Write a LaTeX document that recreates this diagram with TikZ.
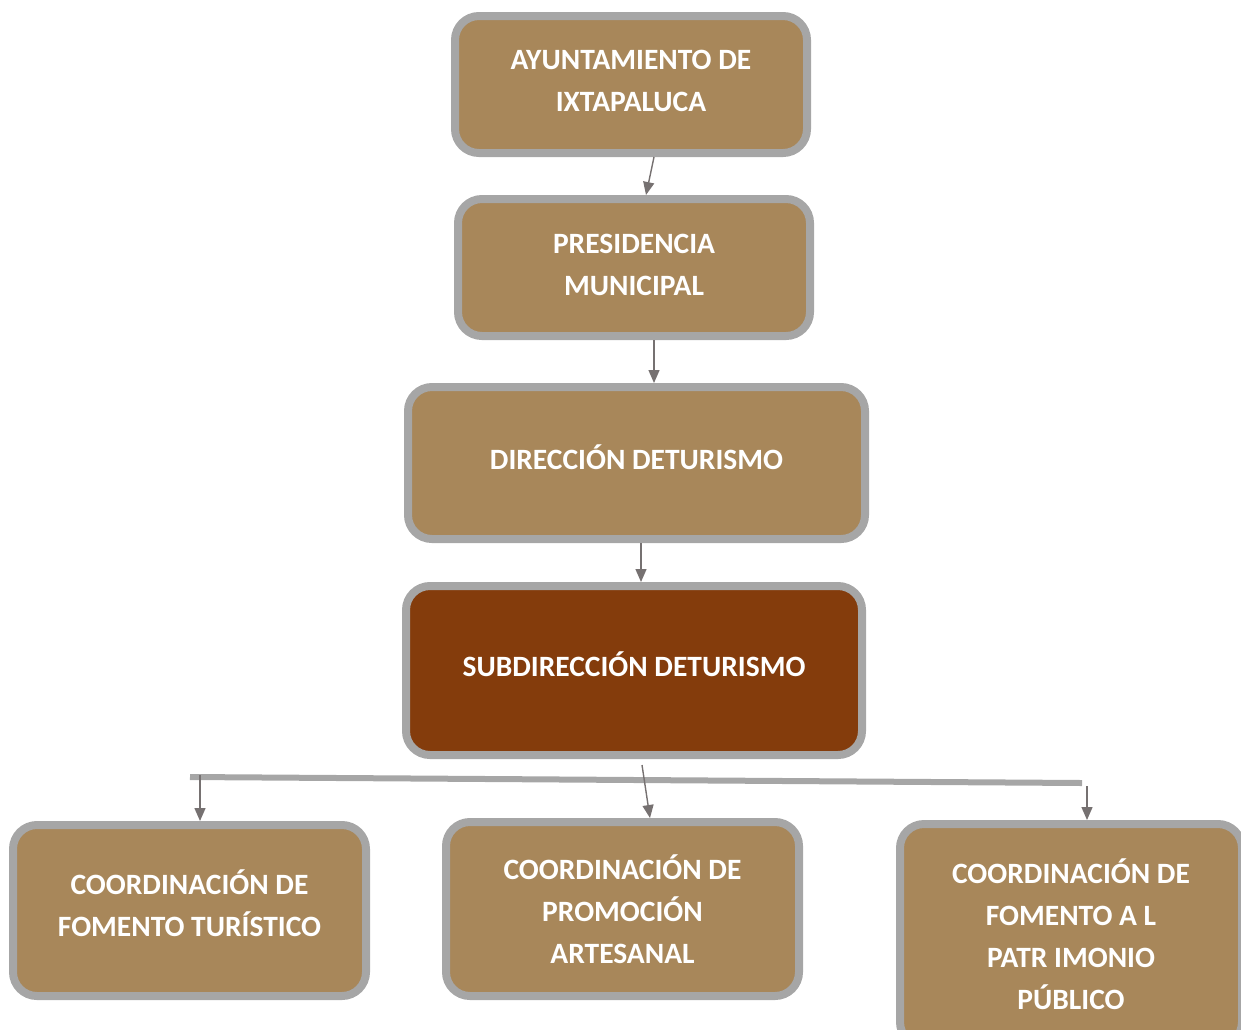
\documentclass[tikz,border=0pt]{standalone}
\usepackage{fontspec}
\setmainfont{Carlito}
\usetikzlibrary{arrows.meta,calc}
\definecolor{tan}{HTML}{A8875A}
\definecolor{darkbrown}{HTML}{843C0C}
\definecolor{rim}{HTML}{A6A6A6}
\definecolor{arr}{HTML}{767171}
\tikzset{
  orgbox/.style={draw=rim, line width=8pt, fill=tan, rounded corners=24pt,
    inner sep=0pt, text=white, align=center,
    font=\bfseries\fontsize{29.5}{42}\selectfont},
  conn/.style={draw=arr, line width=1.4pt, -{Triangle[length=13pt,width=11pt]}},
  bar/.style={draw=rim, line width=6pt}
}
\begin{document}
\begin{tikzpicture}[x=1pt,y=-1pt]
\useasboundingbox (0,0) rectangle (1241,1029);
\clip (0,0) rectangle (1241,1029);
\node[orgbox, text depth=7pt, minimum width=352pt, minimum height=137pt] (ayu) at (631,84.5) {AYUNTAMIENTO DE\\IXTAPALUCA};
\node[orgbox, text depth=5pt, minimum width=352pt, minimum height=137pt] (pre) at (634,267.5) {PRESIDENCIA\\MUNICIPAL};
\node[orgbox, text depth=11pt, minimum width=457pt, minimum height=152pt] (dir) at (636.5,463) {DIRECCIÓN DETURISMO};
\node[orgbox, text depth=13pt, fill=darkbrown, minimum width=456pt, minimum height=169pt] (sub) at (634,670.5) {SUBDIRECCIÓN DETURISMO};
\node[orgbox, text depth=15pt, minimum width=353pt, minimum height=171pt] (fom) at (189.5,910.5) {COORDINACIÓN DE\\FOMENTO TURÍSTICO};
\node[orgbox, text depth=0pt, minimum width=353pt, minimum height=174pt] (pro) at (622.5,909) {COORDINACIÓN DE\\PROMOCIÓN\\ARTESANAL};
\node[orgbox, text depth=1pt, minimum width=342pt, minimum height=222pt] (pat) at (1071,935) {COORDINACIÓN DE\\FOMENTO A L\\PATR IMONIO\\PÚBLICO};
% connectors
\draw[conn] ([xshift=23pt]ayu.south) -- ([xshift=12pt]pre.north);
\draw[conn] ([xshift=20pt]pre.south) -- ([xshift=17.5pt]dir.north);
\draw[conn] ([xshift=4.5pt]dir.south) -- ([xshift=7pt]sub.north);
\coordinate (bl) at (190,777);
\coordinate (br) at (1082,783);
\draw[bar] (bl) -- (br);
\coordinate (fomtop) at (200,775);
\coordinate (subout) at (642,765);
\coordinate (pattop) at (1087,786);
\draw[conn] (fomtop) -- (fomtop |- fom.north);
\draw[conn] (subout) -- ([xshift=27.5pt]pro.north);
\draw[conn] (pattop) -- (pattop |- pat.north);
\end{tikzpicture}
\end{document}
